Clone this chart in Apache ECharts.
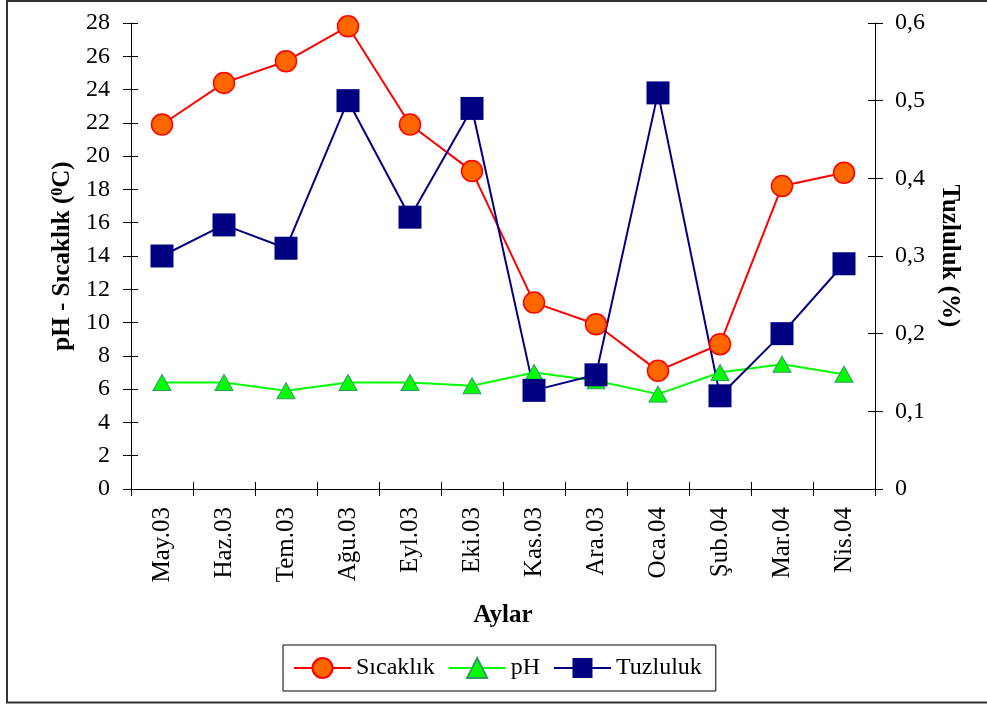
<!DOCTYPE html>
<html><head><meta charset="utf-8">
<script src="https://cdn.jsdelivr.net/npm/echarts@6/dist/echarts.min.js"></script>
<style>html,body{margin:0;padding:0;background:#fff}#c{width:987px;height:704px}</style>
</head><body><div id="c"></div>
<script>
const months = ['May.03','Haz.03','Tem.03','Ağu.03','Eyl.03','Eki.03','Kas.03','Ara.03','Oca.04','Şub.04','Mar.04','Nis.04'];
const sicaklik = [21.9,24.4,25.7,27.8,21.9,19.1,11.2,9.9,7.1,8.7,18.2,19.0];
const ph = [6.4,6.4,5.9,6.4,6.4,6.2,7.0,6.5,5.7,7.0,7.5,6.9];
const tuzluluk = [0.30,0.34,0.31,0.50,0.35,0.49,0.127,0.147,0.51,0.12,0.20,0.29];
const seriesNames = ['Sıcaklık','pH','Tuzluluk'];
const leftAxisRange = {min:0, max:28, interval:2};
const rightAxisRange = {min:0, max:0.6, interval:0.1};

const F = '"Liberation Serif","Times New Roman",serif';
const chart = echarts.init(document.getElementById('c'), null, {renderer:'canvas'});
const blk = {color:'#000', width:1};
function innerY(pos, r){
  return Object.assign({type:'value', position:pos, axisLine:{show:false},
    axisTick:{show:true, inside:true, length:7, lineStyle:blk},
    axisLabel:{show:false}, splitLine:{show:false}}, r);
}
chart.setOption({
  animation:false,
  backgroundColor:'#fff',
  grid:{left:131, right:112, top:23, bottom:215, containLabel:false, outerBoundsMode:'none'},
  graphic:[{type:'rect', shape:{x:7, y:1, width:990, height:701.5}, style:{fill:'none', stroke:'#333', lineWidth:2}, silent:true}],
  legend:{
    left:283, top:645, orient:'horizontal', itemWidth:57, itemHeight:25, itemGap:13,
    padding:[11,14,11,10], borderColor:'#000', borderWidth:1,
    textStyle:{fontSize:24, fontFamily:F, color:'#000'}, data:seriesNames
  },
  xAxis:[
    {type:'category', data:months, position:'bottom', boundaryGap:true,
     axisLine:{show:true, lineStyle:blk},
     axisTick:{show:true, length:7, alignWithLabel:false, lineStyle:blk},
     axisLabel:{rotate:90, interval:0, fontSize:25, fontFamily:F, color:'#000', margin:18},
     splitLine:{show:false},
     name:'Aylar', nameLocation:'middle', nameGap:114,
     nameTextStyle:{fontSize:25, fontWeight:'bold', fontFamily:F, color:'#000'}},
    {type:'category', data:months, position:'bottom', boundaryGap:true,
     axisLine:{show:false}, axisTick:{show:true, inside:true, length:7, lineStyle:blk},
     axisLabel:{show:false}, splitLine:{show:false}}
  ],
  yAxis:[
    Object.assign({type:'value', position:'left',
     axisLine:{show:true, lineStyle:blk},
     axisTick:{show:true, length:8, lineStyle:blk},
     axisLabel:{fontSize:24, fontFamily:F, color:'#000', margin:21},
     splitLine:{show:false},
     name:'pH - Sıcaklık ({sup|0}C)', nameLocation:'middle', nameRotate:90, nameGap:55,
     nameTextStyle:{fontSize:25, fontWeight:'bold', fontFamily:F, color:'#000',
       rich:{sup:{fontSize:16, fontWeight:'bold', fontFamily:F, color:'#000', verticalAlign:'top', padding:[0,0,8,0]}}}
    }, leftAxisRange),
    Object.assign({type:'value', position:'right',
     axisLine:{show:true, lineStyle:blk},
     axisTick:{show:true, length:8, lineStyle:blk},
     axisLabel:{fontSize:24, fontFamily:F, color:'#000', margin:20,
       formatter:v=>String(+v.toFixed(1)).replace('.',',')},
     splitLine:{show:false},
     name:'Tuzluluk (%)', nameLocation:'middle', nameRotate:-90, nameGap:62,
     nameTextStyle:{fontSize:25, fontWeight:'bold', fontFamily:F, color:'#000'}
    }, rightAxisRange),
    innerY('left', leftAxisRange),
    innerY('right', rightAxisRange)
  ],
  series:[
    {name:seriesNames[0], type:'line', data:sicaklik, xAxisIndex:0, yAxisIndex:0,
     symbol:'circle', symbolSize:21, showAllSymbol:true,
     lineStyle:{color:'#FF0000', width:2},
     itemStyle:{color:'#FF6600', borderColor:'#FF0000', borderWidth:1.5},
     emphasis:{disabled:true}},
    {name:seriesNames[1], type:'line', data:ph, xAxisIndex:0, yAxisIndex:0,
     symbol:'triangle', symbolSize:[18,16], showAllSymbol:true,
     lineStyle:{color:'#00FF00', width:2},
     itemStyle:{color:'#00FF00', borderColor:'#339966', borderWidth:1},
     emphasis:{disabled:true}},
    {name:seriesNames[2], type:'line', data:tuzluluk, xAxisIndex:0, yAxisIndex:1,
     symbol:'rect', symbolSize:23, showAllSymbol:true,
     lineStyle:{color:'#000080', width:2},
     itemStyle:{color:'#000080'},
     emphasis:{disabled:true}}
  ]
});
</script></body></html>
